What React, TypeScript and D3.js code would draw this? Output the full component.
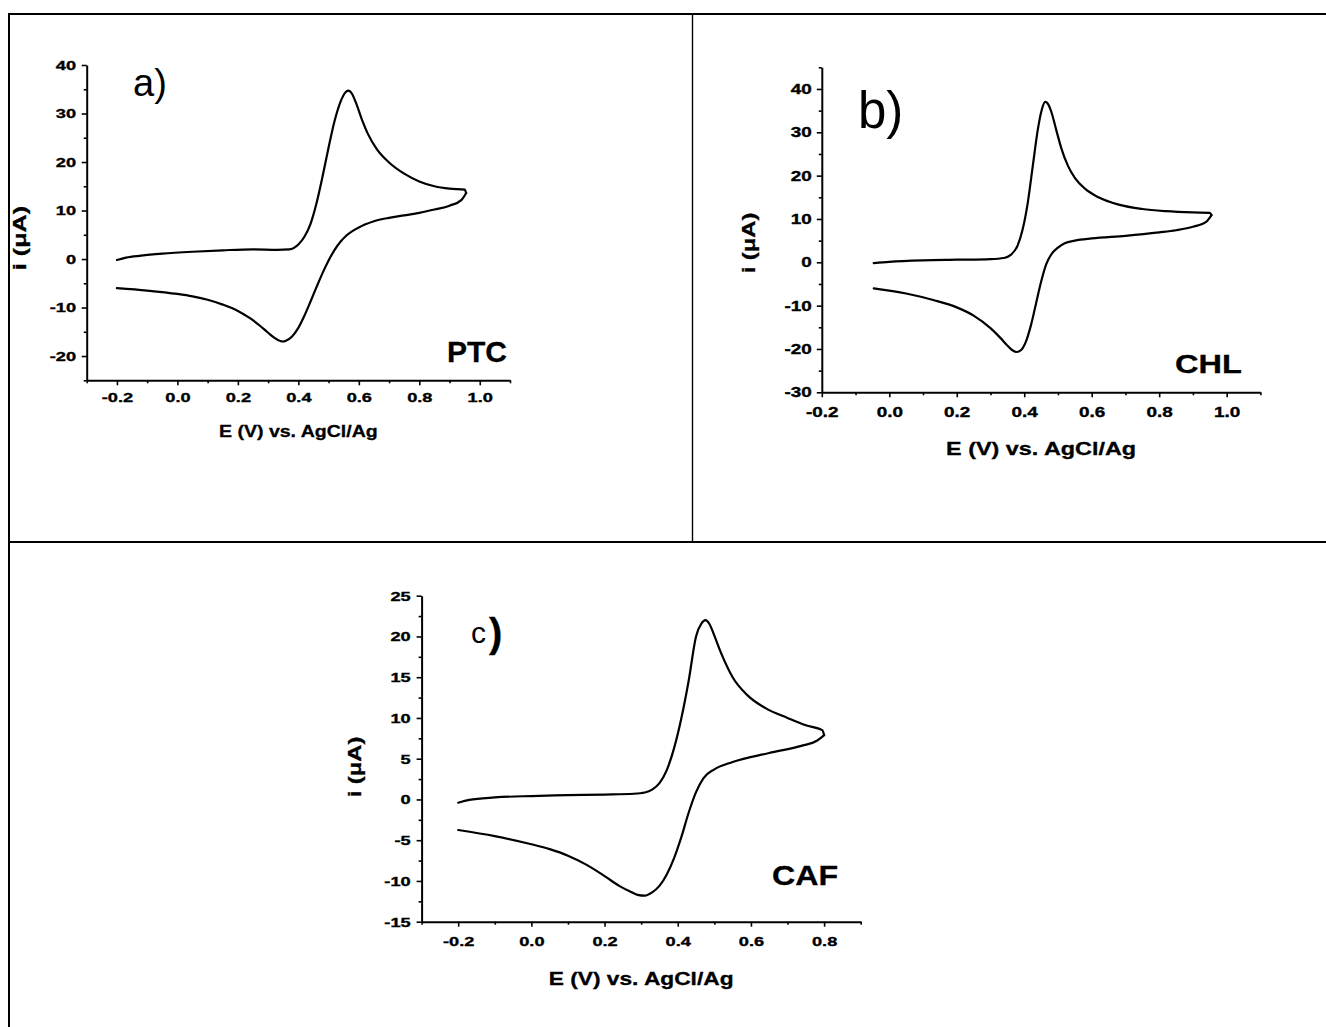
import React, { useEffect, useRef } from 'react';
import * as d3 from 'd3';

const FONT = '"Liberation Sans", Arial, Helvetica, sans-serif';

// a) PTC, E in V and i in uA; forward (anodic) scan and reverse scan in scan order
const ptcFwdE = [-0.2, -0.17, -0.12, -0.05, 0.05, 0.15, 0.25, 0.33, 0.37, 0.4, 0.42, 0.44, 0.46, 0.48, 0.5, 0.52, 0.54, 0.555, 0.565, 0.575, 0.59, 0.61, 0.63, 0.66, 0.7, 0.75, 0.8, 0.85, 0.9, 0.95, 0.955];
const ptcFwdI = [-0.2, 0.3, 0.7, 1.1, 1.5, 1.8, 2.0, 1.9, 2.0, 3.0, 4.6, 7.2, 11.5, 17.0, 23.0, 28.5, 32.5, 34.3, 34.7, 34.3, 32.3, 28.8, 25.8, 22.6, 19.9, 17.6, 16.0, 15.0, 14.5, 14.3, 13.6];
const ptcRevE = [0.955, 0.94, 0.9, 0.85, 0.8, 0.75, 0.7, 0.65, 0.62, 0.6, 0.58, 0.56, 0.54, 0.52, 0.5, 0.48, 0.46, 0.44, 0.42, 0.4, 0.38, 0.36, 0.35, 0.34, 0.32, 0.3, 0.27, 0.24, 0.2, 0.15, 0.1, 0.05, 0.0, -0.1, -0.2];
const ptcRevI = [13.6, 12.2, 11.0, 10.2, 9.5, 9.0, 8.5, 7.8, 7.1, 6.5, 5.8, 4.9, 3.6, 1.9, -0.3, -2.9, -5.8, -8.8, -11.7, -14.2, -15.9, -16.8, -17.0, -16.9, -16.2, -15.2, -13.6, -12.2, -10.7, -9.4, -8.4, -7.7, -7.2, -6.5, -6.0];

// b) CHL
const chlFwdE = [-0.046, 0.0, 0.1, 0.2, 0.3, 0.34, 0.36, 0.38, 0.395, 0.41, 0.425, 0.44, 0.452, 0.462, 0.47, 0.48, 0.495, 0.51, 0.53, 0.55, 0.58, 0.62, 0.68, 0.75, 0.82, 0.9, 0.95, 0.955];
const chlFwdI = [-0.2, 0.1, 0.45, 0.6, 0.75, 1.0, 1.7, 3.8, 7.5, 13.5, 22.0, 30.5, 35.2, 37.0, 36.6, 34.8, 30.5, 26.3, 22.2, 19.5, 17.0, 15.0, 13.3, 12.3, 11.8, 11.5, 11.4, 10.9];
const chlRevE = [0.955, 0.94, 0.9, 0.85, 0.8, 0.7, 0.6, 0.55, 0.52, 0.5, 0.48, 0.465, 0.45, 0.435, 0.42, 0.405, 0.39, 0.378, 0.365, 0.35, 0.33, 0.3, 0.25, 0.2, 0.13, 0.05, -0.046];
const chlRevI = [10.9, 9.4, 8.2, 7.4, 6.9, 6.1, 5.5, 5.0, 4.4, 3.4, 1.8, -0.5, -4.5, -9.5, -14.5, -18.3, -20.3, -20.7, -20.3, -19.2, -17.5, -15.2, -12.3, -10.4, -8.7, -7.2, -6.0];

// c) CAF
const cafFwdE = [-0.2, -0.17, -0.1, 0.0, 0.1, 0.2, 0.28, 0.31, 0.33, 0.35, 0.37, 0.39, 0.41, 0.43, 0.45, 0.465, 0.476, 0.487, 0.5, 0.52, 0.55, 0.59, 0.64, 0.7, 0.75, 0.795, 0.8];
const cafFwdI = [-0.4, -0.05, 0.25, 0.42, 0.52, 0.6, 0.7, 0.85, 1.2, 2.0, 3.6, 6.3, 10.0, 14.6, 20.0, 21.6, 22.0, 21.5, 20.1, 17.8, 15.0, 12.8, 11.2, 10.0, 9.1, 8.5, 7.9];
const cafRevE = [0.8, 0.78, 0.74, 0.65, 0.55, 0.5, 0.47, 0.45, 0.43, 0.41, 0.39, 0.37, 0.35, 0.33, 0.31, 0.29, 0.27, 0.24, 0.2, 0.15, 0.1, 0.05, 0.0, -0.1, -0.2];
const cafRevI = [7.9, 7.2, 6.6, 5.7, 4.6, 3.7, 2.6, 0.9, -1.6, -4.6, -7.2, -9.2, -10.6, -11.4, -11.8, -11.7, -11.3, -10.6, -9.4, -8.0, -6.9, -6.1, -5.5, -4.5, -3.75];

const ptcXTicks = [-0.2, 0.0, 0.2, 0.4, 0.6, 0.8, 1.0];
const ptcXMinor = [-0.3, -0.1, 0.1, 0.3, 0.5, 0.7, 0.9, 1.1];
const ptcYTicks = [-20, -10, 0, 10, 20, 30, 40];
const ptcYMinor = [-25, -15, -5, 5, 15, 25, 35];

const chlXTicks = [-0.2, 0.0, 0.2, 0.4, 0.6, 0.8, 1.0];
const chlXMinor = [-0.1, 0.1, 0.3, 0.5, 0.7, 0.9, 1.1];
const chlYTicks = [-30, -20, -10, 0, 10, 20, 30, 40];
const chlYMinor = [-25, -15, -5, 5, 15, 25, 35, 45];

const cafXTicks = [-0.2, 0.0, 0.2, 0.4, 0.6, 0.8];
const cafXMinor = [-0.3, -0.1, 0.1, 0.3, 0.5, 0.7, 0.9];
const cafYTicks = [-15, -10, -5, 0, 5, 10, 15, 20, 25];
const cafYMinor = [-12.5, -7.5, -2.5, 2.5, 7.5, 12.5, 17.5, 22.5];

const xTitle = 'E (V) vs. AgCl/Ag';
const yTitle = 'i (\u03bcA)';

type Sel = d3.Selection<SVGGElement, unknown, null, undefined>;

function addText(g: Sel, o: { x: number; y: number; text: string; size: number; bold?: boolean; sx?: number; rotate?: number; anchor?: string }) {
  g.append('text')
    .attr('transform', `translate(${o.x},${o.y}) rotate(${o.rotate || 0}) scale(${o.sx || 1},1)`)
    .attr('text-anchor', o.anchor || 'start')
    .attr('font-family', FONT)
    .attr('font-size', o.size)
    .attr('font-weight', o.bold ? 'bold' : 'normal')
    .attr('fill', '#000')
    .attr('stroke', o.bold ? '#000' : 'none')
    .attr('stroke-width', 0.3)
    .text(o.text);
}

interface Panel {
  fwdE: number[]; fwdI: number[]; revE: number[]; revI: number[];
  xDomain: [number, number]; yDomain: [number, number];
  xRange: [number, number]; yRange: [number, number];
  xTicks: number[]; xMinor: number[]; yTicks: number[]; yMinor: number[];
  tickSize: number; tickSx: number; yPad: number; xPad: number;
  xTitleY: number; xTitleSize: number; xTitleSx: number;
  yTitleX: number; yTitleY: number; yTitleSize: number; yTitleSx: number;
}

function drawPanel(root: Sel, p: Panel) {
  const x = d3.scaleLinear().domain(p.xDomain).range(p.xRange);
  const y = d3.scaleLinear().domain(p.yDomain).range(p.yRange);
  const g = root.append('g');

  const styleAxis = (ax: Sel) => {
    ax.select('.domain').attr('stroke', '#000').attr('stroke-width', 2);
    ax.selectAll('line').attr('stroke', '#000').attr('stroke-width', 1.6);
    ax.selectAll('text')
      .attr('font-family', FONT).attr('font-weight', 'bold')
      .attr('font-size', p.tickSize).attr('fill', '#000')
      .attr('stroke', '#000').attr('stroke-width', 0.35)
      .attr('transform', `scale(${p.tickSx},1)`);
  };
  const minorStyle = (ax: Sel) => {
    ax.select('.domain').remove();
    ax.selectAll('line').attr('stroke', '#000').attr('stroke-width', 1.6);
  };

  // minor ticks
  g.append('g').attr('transform', `translate(0,${p.yRange[0]})`)
    .call(d3.axisBottom(x).tickValues(p.xMinor).tickSize(3).tickFormat(() => ''))
    .call(minorStyle);
  g.append('g').attr('transform', `translate(${p.xRange[0]},0)`)
    .call(d3.axisLeft(y).tickValues(p.yMinor).tickSize(3).tickFormat(() => ''))
    .call(minorStyle);

  // major ticks + axis lines
  g.append('g').attr('transform', `translate(0,${p.yRange[0]})`)
    .call(d3.axisBottom(x).tickValues(p.xTicks).tickSize(5).tickSizeOuter(0).tickPadding(p.xPad)
      .tickFormat(d => (+d).toFixed(1)))
    .call(styleAxis);
  g.append('g').attr('transform', `translate(${p.xRange[0]},0)`)
    .call(d3.axisLeft(y).tickValues(p.yTicks).tickSize(5).tickSizeOuter(0).tickPadding(p.yPad)
      .tickFormat(d => String(d)))
    .call(styleAxis);

  const line = d3.line<[number, number]>()
    .x(d => x(d[0]))
    .y(d => y(d[1]))
    .curve(d3.curveMonotoneX);

  // each scan branch is single-valued in E, so draw it sorted by potential
  const branch = (E: number[], I: number[]) =>
    E.map((e, i) => [e, I[i]] as [number, number]).sort((a, b) => a[0] - b[0]);

  [branch(p.fwdE, p.fwdI), branch(p.revE, p.revI)].forEach(pts => {
    g.append('path')
      .datum(pts)
      .attr('fill', 'none')
      .attr('stroke', '#000')
      .attr('stroke-width', 2.2)
      .attr('stroke-linejoin', 'round')
      .attr('stroke-linecap', 'round')
      .attr('d', line);
  });

  addText(g, { x: (p.xRange[0] + p.xRange[1]) / 2, y: p.xTitleY, text: xTitle, size: p.xTitleSize, bold: true, sx: p.xTitleSx, anchor: 'middle' });
  addText(g, { x: p.yTitleX, y: p.yTitleY, text: yTitle, size: p.yTitleSize, bold: true, sx: p.yTitleSx, rotate: -90, anchor: 'middle' });
  return g;
}

const App: React.FC = () => {
  const ref = useRef<SVGSVGElement>(null);

  useEffect(() => {
    if (!ref.current) return;
    const svg = d3.select(ref.current);
    svg.selectAll('*').remove();
    const root = svg.append('g') as unknown as Sel;

    // outer frame and dividers
    root.append('line').attr('x1', 9).attr('x2', 9).attr('y1', 13).attr('y2', 1027).attr('stroke', '#000').attr('stroke-width', 2);
    root.append('line').attr('x1', 8).attr('x2', 1326).attr('y1', 14).attr('y2', 14).attr('stroke', '#000').attr('stroke-width', 2);
    root.append('line').attr('x1', 692.5).attr('x2', 692.5).attr('y1', 14).attr('y2', 542).attr('stroke', '#000').attr('stroke-width', 1.4);
    root.append('line').attr('x1', 8).attr('x2', 1326).attr('y1', 542).attr('y2', 542).attr('stroke', '#000').attr('stroke-width', 2);

    const ga = drawPanel(root, {
      fwdE: ptcFwdE, fwdI: ptcFwdI, revE: ptcRevE, revI: ptcRevI,
      xDomain: [-0.3, 1.1], yDomain: [-25, 40],
      xRange: [86.7, 510], yRange: [380.3, 65],
      xTicks: ptcXTicks, xMinor: ptcXMinor, yTicks: ptcYTicks, yMinor: ptcYMinor,
      tickSize: 13.5, tickSx: 1.35, yPad: 2.9, xPad: 6.7,
      xTitleY: 437, xTitleSize: 17, xTitleSx: 1.15,
      yTitleX: 26, yTitleY: 238, yTitleSize: 18, yTitleSx: 1.4,
    });
    addText(ga, { x: 133, y: 96, text: 'a)', size: 38 });
    addText(ga, { x: 447, y: 362, text: 'PTC', size: 30, bold: true });

    const gb = drawPanel(root, {
      fwdE: chlFwdE, fwdI: chlFwdI, revE: chlRevE, revI: chlRevI,
      xDomain: [-0.2, 1.1], yDomain: [-30, 45],
      xRange: [821.8, 1260.4], yRange: [392.3, 67.3],
      xTicks: chlXTicks, xMinor: chlXMinor, yTicks: chlYTicks, yMinor: chlYMinor,
      tickSize: 14, tickSx: 1.35, yPad: 2.4, xPad: 9.4,
      xTitleY: 455, xTitleSize: 18, xTitleSx: 1.3,
      yTitleX: 755, yTitleY: 243, yTitleSize: 19, yTitleSx: 1.25,
    });
    addText(gb, { x: 858, y: 128, text: 'b)', size: 51 });
    addText(gb, { x: 1175, y: 373, text: 'CHL', size: 25, bold: true, sx: 1.3 });

    const gc = drawPanel(root, {
      fwdE: cafFwdE, fwdI: cafFwdI, revE: cafRevE, revI: cafRevI,
      xDomain: [-0.3, 0.9], yDomain: [-15, 25],
      xRange: [421.6, 860.7], yRange: [921.7, 595.7],
      xTicks: cafXTicks, xMinor: cafXMinor, yTicks: cafYTicks, yMinor: cafYMinor,
      tickSize: 13.5, tickSx: 1.35, yPad: 3.1, xPad: 9.3,
      xTitleY: 985, xTitleSize: 17.5, xTitleSx: 1.3,
      yTitleX: 361, yTitleY: 767, yTitleSize: 19, yTitleSx: 1.25,
    });
    addText(gc, { x: 471, y: 643, text: 'c', size: 30 });
    addText(gc, { x: 489, y: 647, text: ')', size: 40, bold: true });
    addText(gc, { x: 772, y: 885, text: 'CAF', size: 28, bold: true, sx: 1.15 });
  }, []);

  return (
    <svg
      ref={ref}
      width={1326}
      height={1027}
      style={{ position: 'absolute', left: 0, top: 0, display: 'block', background: '#fff' }}
    />
  );
};

export default App;
